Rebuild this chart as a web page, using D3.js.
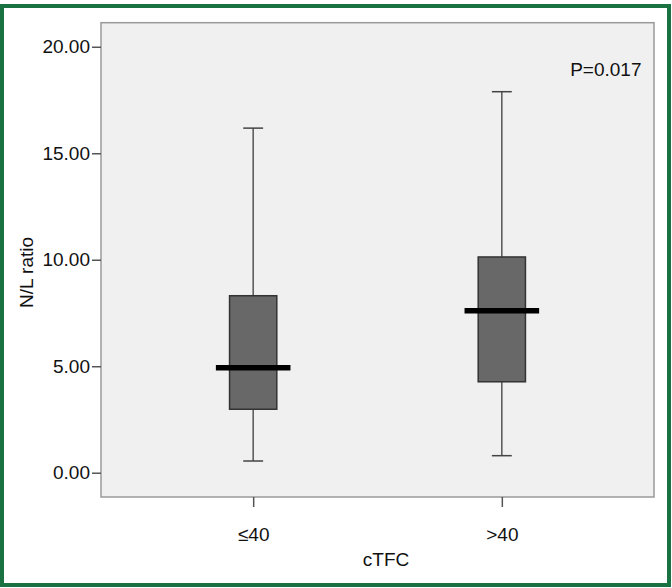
<!DOCTYPE html>
<html>
<head>
<meta charset="utf-8">
<script src="https://cdn.jsdelivr.net/npm/d3@7"></script>
<style>
  body { margin: 0; background: #fff; }
  text { font-family: "Liberation Sans", Arial, Helvetica, sans-serif; fill: #111; }
</style>
</head>
<body>
<svg id="chart"></svg>
<script>
// chart values
var categories = ["≤40", ">40"];
var whiskerLow = [0.55, 0.80];
var q1 = [2.98, 4.27];
var median = [4.93, 7.61];
var q3 = [8.31, 10.13];
var whiskerHigh = [16.18, 17.89];
var yTicks = [0, 5, 10, 15, 20];
var pLabel = "P=0.017";

var W = 672, H = 588;
var plot = {left: 101, top: 22.7, right: 654, bottom: 497};
var fs = 19;

var svg = d3.select("#chart").attr("width", W).attr("height", H);

// green frame round the figure
svg.append("rect")
    .attr("x", 2).attr("y", 6)
    .attr("width", 667).attr("height", 579)
    .attr("fill", "none")
    .attr("stroke", "#1a7243")
    .attr("stroke-width", 4);

// scales
var x = d3.scalePoint()
    .domain(categories)
    .range([plot.left, plot.right])
    .padding(0.612);
var y = d3.scaleLinear()
    .domain([-1.14, 21.13])
    .range([plot.bottom, plot.top]);

// plot background
svg.append("rect")
    .attr("x", plot.left).attr("y", plot.top)
    .attr("width", plot.right - plot.left)
    .attr("height", plot.bottom - plot.top)
    .attr("fill", "#f0f0f0")
    .attr("stroke", "#9a9a9a")
    .attr("stroke-width", 1.5);

// y axis
var yAxis = svg.append("g")
    .attr("transform", "translate(" + plot.left + ",0)")
    .call(d3.axisLeft(y).tickValues(yTicks).tickFormat(d3.format(".2f")).tickSize(9).tickPadding(2));
yAxis.select(".domain").remove();
yAxis.selectAll("line").attr("stroke", "#555").attr("stroke-width", 1.5);
yAxis.selectAll("text").attr("font-size", fs).style("font-family", "Liberation Sans, Arial, sans-serif").attr("fill", "#111");

// x axis
var xAxis = svg.append("g")
    .attr("transform", "translate(0," + plot.bottom + ")")
    .call(d3.axisBottom(x).tickSize(10).tickPadding(21));
xAxis.select(".domain").remove();
xAxis.selectAll("line").attr("stroke", "#555").attr("stroke-width", 1.5);
xAxis.selectAll("text").attr("font-size", fs).style("font-family", "Liberation Sans, Arial, sans-serif").attr("fill", "#111");

// boxes
var boxW = x.step() * 0.19;
var capW = x.step() * 0.08;
var medW = x.step() * 0.3;
var idx = d3.range(categories.length);

var g = svg.append("g");

// whiskers
g.selectAll(".whisk-lo").data(idx).enter().append("line")
    .attr("x1", function(i) { return x(categories[i]); })
    .attr("x2", function(i) { return x(categories[i]); })
    .attr("y1", function(i) { return y(whiskerLow[i]); })
    .attr("y2", function(i) { return y(q1[i]); })
    .attr("stroke", "#555").attr("stroke-width", 1.5);
g.selectAll(".whisk-hi").data(idx).enter().append("line")
    .attr("x1", function(i) { return x(categories[i]); })
    .attr("x2", function(i) { return x(categories[i]); })
    .attr("y1", function(i) { return y(whiskerHigh[i]); })
    .attr("y2", function(i) { return y(q3[i]); })
    .attr("stroke", "#555").attr("stroke-width", 1.5);

// caps
[whiskerLow, whiskerHigh].forEach(function(arr) {
  g.selectAll(null).data(idx).enter().append("line")
      .attr("x1", function(i) { return x(categories[i]) - capW / 2; })
      .attr("x2", function(i) { return x(categories[i]) + capW / 2; })
      .attr("y1", function(i) { return y(arr[i]); })
      .attr("y2", function(i) { return y(arr[i]); })
      .attr("stroke", "#444").attr("stroke-width", 1.5);
});

// boxes
g.selectAll(".box").data(idx).enter().append("rect")
    .attr("x", function(i) { return x(categories[i]) - boxW / 2; })
    .attr("width", boxW)
    .attr("y", function(i) { return y(q3[i]); })
    .attr("height", function(i) { return y(q1[i]) - y(q3[i]); })
    .attr("fill", "#686868")
    .attr("stroke", "#333")
    .attr("stroke-width", 1.5);

// medians
g.selectAll(".med").data(idx).enter().append("line")
    .attr("x1", function(i) { return x(categories[i]) - medW / 2; })
    .attr("x2", function(i) { return x(categories[i]) + medW / 2; })
    .attr("y1", function(i) { return y(median[i]); })
    .attr("y2", function(i) { return y(median[i]); })
    .attr("stroke", "#000").attr("stroke-width", 5.5);

// annotation
svg.append("text")
    .attr("x", 641.5).attr("y", 76)
    .attr("text-anchor", "end")
    .attr("font-size", fs)
    .text(pLabel);

// axis titles
svg.append("text")
    .attr("x", 386).attr("y", 566)
    .attr("text-anchor", "middle")
    .attr("font-size", fs)
    .text("cTFC");

svg.append("text")
    .attr("transform", "translate(33,272.5) rotate(-90)")
    .attr("text-anchor", "middle")
    .attr("font-size", fs)
    .text("N/L ratio");
</script>
</body>
</html>
